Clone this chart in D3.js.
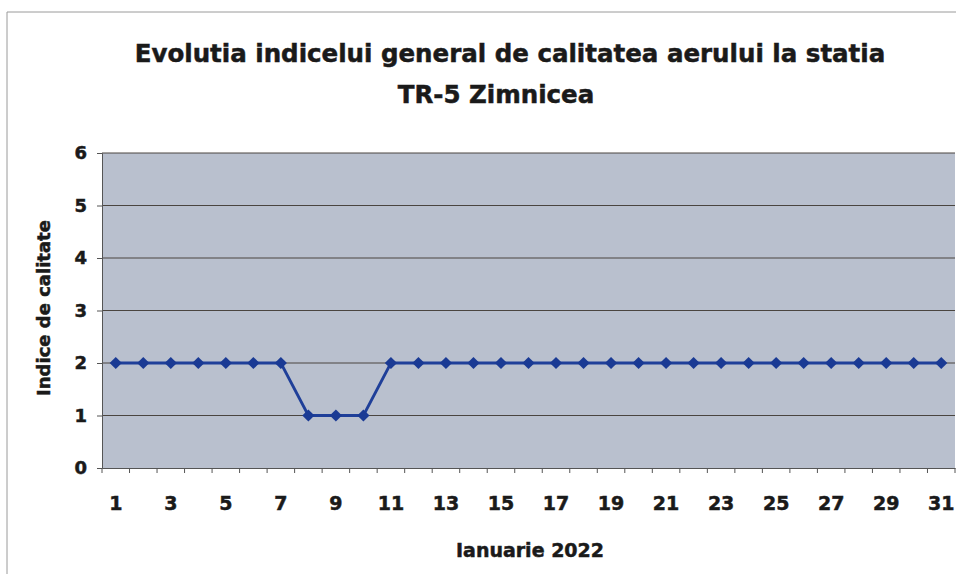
<!DOCTYPE html>
<html>
<head>
<meta charset="utf-8">
<script src="https://cdn.jsdelivr.net/npm/d3@7"></script>
<style>
  body { margin: 0; background: #fff; }
  text { font-family: "DejaVu Sans", "Liberation Sans", Arial, sans-serif; font-weight: bold; fill: #1a1a1a;
         stroke: #1a1a1a; stroke-width: 0.5px; }
</style>
</head>
<body>
<script>
// chart data
const days = [1,2,3,4,5,6,7,8,9,10,11,12,13,14,15,16,17,18,19,20,21,22,23,24,25,26,27,28,29,30,31];
const indexValues = [2,2,2,2,2,2,2,1,1,1,2,2,2,2,2,2,2,2,2,2,2,2,2,2,2,2,2,2,2,2,2];
const yTicks = [0,1,2,3,4,5,6];
const titleLines = ["Evolutia indicelui general de calitatea aerului la statia", "TR-5 Zimnicea"];

var W = 956, H = 574;
var margin = {top: 153, right: 1, bottom: 106, left: 102},
    width = W - margin.left - margin.right,
    height = H - margin.top - margin.bottom;

const svg = d3.select("body").append("svg")
  .attr("width", W).attr("height", H);

// outer chart frame (left and top edges visible)
svg.append("line").attr("x1", 7).attr("x2", 7).attr("y1", 12).attr("y2", H)
  .style("stroke", "#9a9a9a").style("stroke-width", 1);
svg.append("line").attr("x1", 7).attr("x2", W).attr("y1", 12).attr("y2", 12)
  .style("stroke", "#9a9a9a").style("stroke-width", 1);

// title
svg.selectAll(".title").data(titleLines).enter().append("text")
  .attr("class", "title")
  .attr("x", (d, i) => i === 0 ? 510 : 496)
  .attr("y", (d, i) => 62 + i * 41)
  .attr("text-anchor", "middle")
  .style("font-size", "24.5px")
  .text(d => d);

const g = svg.append("g")
  .attr("transform", "translate(" + margin.left + "," + margin.top + ")");

const xScale = d3.scaleBand().domain(days).range([0, width]).padding(0);
const yScale = d3.scaleLinear().domain([0, 6]).range([height, 0]);

// plot background
g.append("rect")
  .attr("width", width).attr("height", height)
  .style("fill", "#b9c0ce");

// horizontal gridlines
g.selectAll(".grid").data(yTicks.filter(d => d > 0)).enter().append("line")
  .attr("class", "grid")
  .attr("x1", 0).attr("x2", width)
  .attr("y1", d => yScale(d)).attr("y2", d => yScale(d))
  .style("stroke", "#4a4540").style("stroke-width", 1);

// y axis
const yAxis = g.append("g")
  .call(d3.axisLeft(yScale).tickValues(yTicks).tickFormat(d3.format("d")).tickSize(5).tickPadding(10));
yAxis.select(".domain").style("stroke", "#555");
yAxis.selectAll(".tick line").style("stroke", "#555");
yAxis.selectAll("text").style("font-size", "18px");

// x axis, ticks sit between categories
const xAxis = g.append("g")
  .attr("transform", "translate(0," + height + ")")
  .call(d3.axisBottom(xScale).tickSize(0).tickPadding(29)
    .tickFormat(d => d % 2 === 1 ? d : ""));
xAxis.select(".domain").style("stroke", "#555");
xAxis.selectAll("text").style("font-size", "19px");
xAxis.selectAll(".sep").data(days.concat([32])).enter().append("line")
  .attr("class", "sep")
  .attr("x1", (d, i) => i === days.length ? width : xScale(d))
  .attr("x2", (d, i) => i === days.length ? width : xScale(d))
  .attr("y1", 0).attr("y2", 5)
  .style("stroke", "#555");

// axis titles
svg.append("text")
  .attr("transform", "translate(50,308) rotate(-90)")
  .attr("text-anchor", "middle")
  .style("font-size", "18px")
  .text("Indice de calitate");
svg.append("text")
  .attr("x", 530).attr("y", 557)
  .attr("text-anchor", "middle")
  .style("font-size", "19px")
  .text("Ianuarie 2022");

// series line and diamond markers
const cx = d => xScale(d) + xScale.bandwidth() / 2;
g.append("path")
  .datum(days)
  .attr("d", d3.line().x(d => cx(d)).y((d, i) => yScale(indexValues[i])))
  .style("fill", "none").style("stroke", "#1f3f99").style("stroke-width", 2.8);

g.selectAll(".pt").data(days).enter().append("path")
  .attr("class", "pt")
  .attr("transform", (d, i) => "translate(" + cx(d) + "," + yScale(indexValues[i]) + ")")
  .attr("d", d3.symbol().type(d3.symbolDiamond2).size(95))
  .style("fill", "#1a3a94");
</script>
</body>
</html>
